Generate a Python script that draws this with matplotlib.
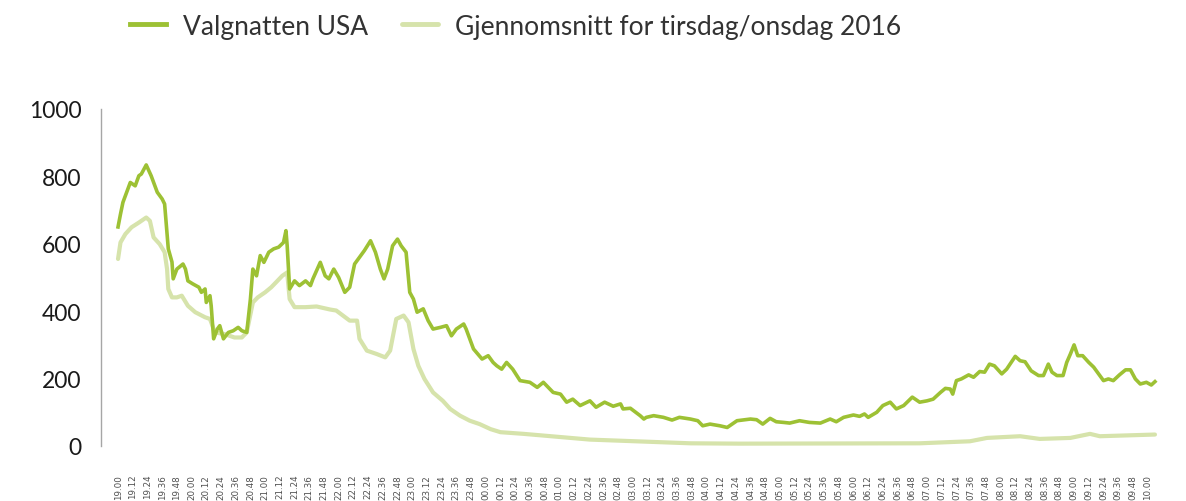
import matplotlib.pyplot as plt

# x = minute row on the category axis (one label every 12 rows), y = value
valg_x = [0, 2, 4, 10, 14, 17, 19, 23, 27, 32, 36, 38, 41, 44, 45, 48, 53, 55, 57, 61,
          66, 68, 71, 72, 75, 76, 78, 81, 83, 86, 90, 94, 98, 101, 105, 108, 110, 113, 116, 119,
          123, 127, 131, 135, 137, 138, 140, 144, 148, 153, 157, 159, 165, 169, 172, 176, 180, 185, 189, 193,
          197, 201, 206, 210, 214, 217, 220, 224, 228, 231, 235, 238, 241, 244, 249, 253, 257, 263, 268, 272,
          276, 282, 284, 290, 297, 302, 306, 309, 313, 317, 322, 328, 336, 342, 347, 355, 361, 366, 371, 377,
          385, 390, 397, 404, 410, 412, 418, 426, 429, 431, 437, 445, 452, 458, 467, 473, 477, 483, 491, 497,
          505, 516, 521, 526, 532, 537, 543, 548, 556, 564, 573, 581, 586, 592, 600, 605, 609, 612, 619, 624,
          630, 635, 641, 648, 654, 660, 665, 671, 675, 679, 681, 684, 688, 694, 698, 703, 707, 711, 715, 721,
          725, 732, 736, 740, 745, 751, 755, 759, 762, 766, 771, 774, 777, 780, 783, 787, 792, 796, 800, 804,
          808, 812, 817, 822, 826, 830, 834, 839, 843, 846]
valg_y = [650, 688, 723, 782, 772, 802, 807, 834, 802, 753, 733, 718, 585, 546, 496, 525, 540, 525, 490, 481,
          471, 456, 466, 426, 446, 416, 318, 347, 357, 318, 337, 342, 352, 342, 337, 436, 525, 505, 565, 545,
          575, 585, 590, 604, 639, 594, 466, 490, 476, 490, 476, 496, 545, 505, 496, 525, 500, 456, 471, 540,
          560, 580, 609, 575, 525, 496, 525, 594, 614, 594, 575, 456, 436, 397, 407, 372, 347, 352, 357, 327,
          347, 362, 347, 288, 258, 268, 248, 238, 228, 248, 228, 194, 189, 174, 189, 159, 154, 130, 139, 120,
          134, 115, 130, 118, 125, 110, 112, 90, 80, 85, 90, 85, 77, 85, 80, 75, 60, 65, 60, 55,
          75, 80, 78, 65, 82, 72, 70, 68, 75, 70, 68, 80, 72, 85, 92, 88, 95, 85, 100, 120,
          130, 110, 120, 145, 130, 134, 139, 159, 171, 169, 154, 194, 199, 211, 204, 221, 219, 243, 238, 214,
          228, 266, 253, 250, 223, 209, 209, 243, 219, 209, 209, 248, 273, 300, 268, 268, 248, 234, 214, 194,
          199, 194, 211, 226, 226, 199, 184, 189, 181, 191]

snitt_x = [0, 2, 6, 11, 17, 23, 26, 29, 34, 38, 40, 41, 44, 48, 52, 57, 63, 71, 75, 79,
           87, 95, 101, 105, 110, 114, 120, 125, 129, 134, 138, 140, 144, 153, 162, 173, 178, 189, 195, 197,
           203, 211, 218, 222, 227, 233, 237, 241, 245, 250, 257, 265, 271, 279, 287, 295, 304, 312, 331, 385,
           467, 507, 654, 695, 709, 736, 752, 777, 793, 801, 846]
snitt_y = [555, 604, 629, 649, 663, 678, 668, 619, 599, 575, 525, 466, 441, 441, 446, 416, 397, 382, 377, 337,
           332, 322, 322, 337, 426, 441, 456, 471, 486, 505, 515, 436, 412, 412, 414, 405, 402, 372, 372, 318,
           283, 273, 263, 283, 377, 387, 367, 288, 238, 199, 159, 134, 110, 90, 75, 65, 50, 41, 36, 19,
           8, 7, 8, 14, 24, 29, 21, 24, 36, 29, 34]

tick_labels = ["19.00", "19.12", "19.24", "19.36", "19.48", "20.00", "20.12", "20.24", "20.36", "20.48",
               "21.00", "21.12", "21.24", "21.36", "21.48", "22.00", "22.12", "22.24", "22.36", "22.48",
               "23.00", "23.12", "23.24", "23.36", "23.48", "00.00", "00.12", "00.24", "00.36", "00.48",
               "01.00", "02.12", "02.24", "02.36", "02.48", "03.00", "03.12", "03.24", "03.36", "03.48",
               "04.00", "04.12", "04.24", "04.36", "04.48", "05.00", "05.12", "05.24", "05.36", "05.48",
               "06.00", "06.12", "06.24", "06.36", "06.48", "07.00", "07.12", "07.24", "07.36", "07.48",
               "08.00", "08.12", "08.24", "08.36", "08.48", "09.00", "09.12", "09.24", "09.36", "09.48",
               "10.00"]
y_ticks = [0, 200, 400, 600, 800, 1000]

GREEN = "#9dc134"
LIGHT = "#d6e3ab"

fig = plt.figure(figsize=(11.86, 5.02), dpi=100)
ax = fig.add_axes([101 / 1186, 55 / 502, 1065 / 1186, 337 / 502])

ax.plot(snitt_x, snitt_y, color=LIGHT, lw=3.0, solid_capstyle="round",
        label="Gjennomsnitt for tirsdag/onsdag 2016", clip_on=False)
ax.plot(valg_x, valg_y, color=GREEN, lw=2.6, solid_joinstyle="round",
        label="Valgnatten USA", clip_on=False)

ax.set_xlim(-13.9, 855)
ax.set_ylim(0, 1000)
ax.set_xticks([12 * i for i in range(len(tick_labels))])
ax.set_xticklabels(tick_labels, rotation=90, fontsize=6.3, color="#505050", family="DejaVu Sans")
ax.set_yticks(y_ticks)
ax.set_yticklabels([str(v) for v in y_ticks], fontsize=16.5, family="Lato", color="#1a1a1a")
ax.tick_params(axis="both", length=0)
ax.tick_params(axis="y", pad=14)
ax.tick_params(axis="x", pad=20)

for side in ["top", "right", "bottom"]:
    ax.spines[side].set_visible(False)
ax.spines["left"].set_color("#a6a6a6")
ax.spines["left"].set_linewidth(1.0)

handles, labels = ax.get_legend_handles_labels()
leg = fig.legend(handles[::-1], labels[::-1], loc="center left", bbox_to_anchor=(130 / 1186, 1 - 27 / 502),
                 ncol=2, frameon=False, borderpad=0, borderaxespad=0, handlelength=1.36,
                 handletextpad=0.64, columnspacing=1.3, prop={"family": "Lato", "size": 19})
for line in leg.get_lines():
    line.set_linewidth(3.5)
for t in leg.get_texts():
    t.set_color("#333333")

fig.savefig("out.png", dpi=100)
